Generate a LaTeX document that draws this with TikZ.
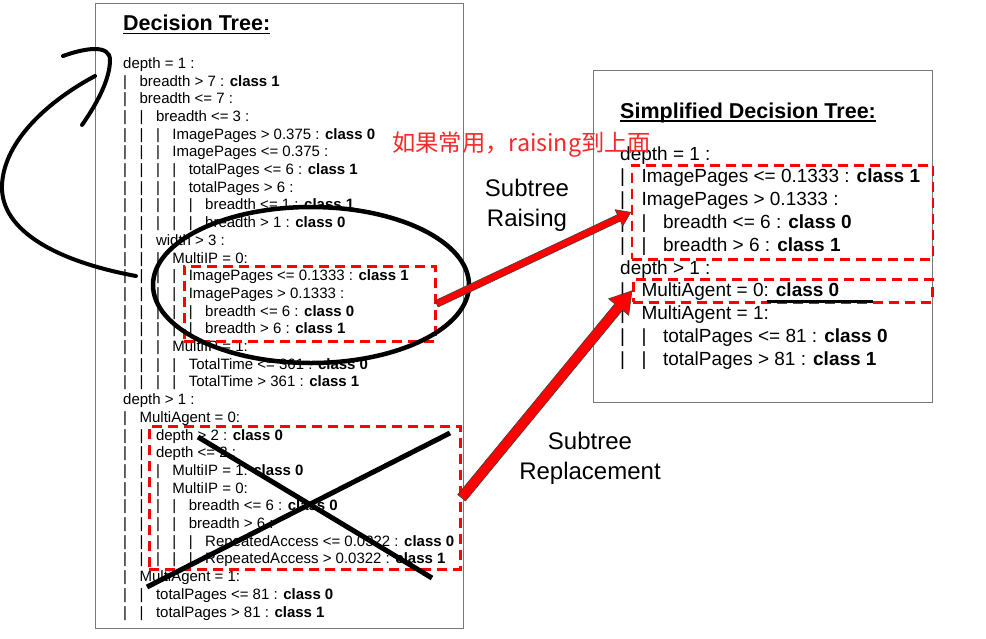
\documentclass[tikz,border=0pt]{standalone}
\usepackage{fontspec}
\setmainfont{Liberation Sans}
\newfontfamily\cjk{Noto Sans CJK SC}
\usetikzlibrary{calc}
\newcommand{\lvbar}{\makebox[16.4pt][l]{|}}
\newcommand{\rvbar}{\makebox[21.4pt][l]{|}}
\definecolor{redline}{RGB}{255,0,0}
\definecolor{cjkred}{RGB}{250,40,40}
\definecolor{boxgray}{RGB}{120,120,120}
% block arrow: #1 start, #2 end, #3 half shaft width, #4 head length, #5 half head width
\newcommand{\blkarrow}[5]{%
  \coordinate (ba-c) at ($(#2)!#4!(#1)$);
  \filldraw[arrowbody] ($(#1)!#3!90:(#2)$) -- ($(ba-c)!#3!-90:(#1)$) -- ($(ba-c)!#5!-90:(#1)$) -- (#2)
    -- ($(ba-c)!#5!90:(#1)$) -- ($(ba-c)!#3!90:(#1)$) -- ($(#1)!#3!-90:(#2)$) -- cycle;}
\begin{document}
\begin{tikzpicture}[x=1pt,y=-1pt,
  panel/.style={draw=boxgray, line width=0.9pt, inner sep=0, anchor=north west},
  redbox/.style={draw=redline, line width=2.6pt, dash pattern=on 10pt off 6pt, inner sep=0, anchor=north west},
  tline/.style={anchor=base west, inner sep=0, font=\fontsize{15}{18}\selectfont},
  rline/.style={anchor=base west, inner sep=0, font=\fontsize{19}{22}\selectfont},
  ttl/.style={anchor=base west, inner sep=0, font=\fontsize{21.5}{26}\selectfont\bfseries},
  biglabel/.style={align=center, inner sep=0, font=\fontsize{24}{30}\selectfont},
  arrowbody/.style={fill=redline, draw=black!75, line width=0.6pt, line join=miter},
  pen/.style={draw=black, line width=4pt, line cap=round},
  cross/.style={draw=black, line width=5pt}
]
\useasboundingbox (0,0) rectangle (986,638);
\fill[white] (0,0) rectangle (986,638);

% panels
\node[panel, minimum width=368pt, minimum height=625pt] (lbox) at (95,3) {};
\node[panel, minimum width=339pt, minimum height=332pt] (rbox) at (593,70) {};

% titles
\node[ttl] (ltitle) at (123,30.7) {Decision Tree:};
\draw[line width=1.6pt] ([yshift=-2.8pt]ltitle.base west) -- ([yshift=-2.8pt]ltitle.base east);
\node[ttl] (rtitle) at (620,118) {Simplified Decision Tree:};
\draw[line width=1.6pt] ([yshift=-2.8pt]rtitle.base west) -- ([yshift=-2.8pt]rtitle.base east);

% left tree
\foreach \t [count=\i] in {
  {depth = 1 :},
  {\lvbar breadth > 7 : \textbf{class 1}},
  {\lvbar breadth <= 7 :},
  {\lvbar\lvbar breadth <= 3 :},
  {\lvbar\lvbar\lvbar ImagePages > 0.375 : \textbf{class 0}},
  {\lvbar\lvbar\lvbar ImagePages <= 0.375 :},
  {\lvbar\lvbar\lvbar\lvbar totalPages <= 6 : \textbf{class 1}},
  {\lvbar\lvbar\lvbar\lvbar totalPages > 6 :},
  {\lvbar\lvbar\lvbar\lvbar\lvbar breadth <= 1 : \textbf{class 1}},
  {\lvbar\lvbar\lvbar\lvbar\lvbar breadth > 1 : \textbf{class 0}},
  {\lvbar\lvbar width > 3 :},
  {\lvbar\lvbar\lvbar MultiIP = 0:},
  {\lvbar\lvbar\lvbar\lvbar ImagePages <= 0.1333 : \textbf{class 1}},
  {\lvbar\lvbar\lvbar\lvbar ImagePages > 0.1333 :},
  {\lvbar\lvbar\lvbar\lvbar\lvbar breadth <= 6 : \textbf{class 0}},
  {\lvbar\lvbar\lvbar\lvbar\lvbar breadth > 6 : \textbf{class 1}},
  {\lvbar\lvbar\lvbar MultiIP = 1:},
  {\lvbar\lvbar\lvbar\lvbar TotalTime <= 361 : \textbf{class 0}},
  {\lvbar\lvbar\lvbar\lvbar TotalTime > 361 : \textbf{class 1}},
  {depth > 1 :},
  {\lvbar MultiAgent = 0:},
  {\lvbar\lvbar depth > 2 : \textbf{class 0}},
  {\lvbar\lvbar depth <= 2 :},
  {\lvbar\lvbar\lvbar MultiIP = 1: \textbf{class 0}},
  {\lvbar\lvbar\lvbar MultiIP = 0:},
  {\lvbar\lvbar\lvbar\lvbar breadth <= 6 : \textbf{class 0}},
  {\lvbar\lvbar\lvbar\lvbar breadth > 6 :},
  {\lvbar\lvbar\lvbar\lvbar\lvbar RepeatedAccess <= 0.0322 : \textbf{class 0}},
  {\lvbar\lvbar\lvbar\lvbar\lvbar RepeatedAccess > 0.0322 : \textbf{class 1}},
  {\lvbar MultiAgent = 1:},
  {\lvbar\lvbar totalPages <= 81 : \textbf{class 0}},
  {\lvbar\lvbar totalPages > 81 : \textbf{class 1}}}
  \node[tline] (l\i) at (123,{68.3+17.7*(\i-1)}) {\t};

% right tree
\foreach \t [count=\i] in {
  {depth = 1 :},
  {\rvbar ImagePages <= 0.1333 : \textbf{class 1}},
  {\rvbar ImagePages > 0.1333 :},
  {\rvbar\rvbar breadth <= 6 : \textbf{class 0}},
  {\rvbar\rvbar breadth > 6 : \textbf{class 1}},
  {depth > 1 :},
  {\rvbar MultiAgent = 0: \textbf{class 0}},
  {\rvbar MultiAgent = 1:},
  {\rvbar\rvbar totalPages <= 81 : \textbf{class 0}},
  {\rvbar\rvbar totalPages > 81 : \textbf{class 1}}}
  \node[rline] (r\i) at (620,{160+22.8*(\i-1)}) {\t};

% red dashed boxes
\node[redbox, minimum width=251pt, minimum height=75pt] (boxA) at (183,265) {};
\node[redbox, minimum width=311pt, minimum height=143pt] (boxB) at (148,425) {};
\node[redbox, minimum width=301pt, minimum height=94pt] (boxR1) at (630.7,164) {};
\node[redbox, minimum width=299pt, minimum height=23pt] (boxR2) at (632,278) {};
\draw[line width=3pt] (767,301) -- (873,301);

% hand-drawn marks
\draw[pen, line width=4.5pt] (311,285) ellipse [x radius=158pt, y radius=78pt];
\draw[pen] (136,276) .. controls (60,262) and (0,232) .. (2,185)
  .. controls (4,140) and (50,100) .. (95,76);
\draw[pen] (63,56) .. controls (85,48) and (110,44) .. (110,60)
  .. controls (110,80) and (96,105) .. (82,125);
\draw[cross] (198,437) -- (432,578);
\draw[cross] (450,433) -- (147,587);

% arrows
\blkarrow{boxA.east}{boxR1.west}{3.5pt}{13pt}{9pt}
\blkarrow{boxB.east}{boxR2.west}{5pt}{21pt}{13pt}

% labels
\node[biglabel] (raise) at (527,205) {Subtree\\Raising};
\node[biglabel] (repl) at (590,458) {Subtree\\Replacement};
\node[anchor=base west, inner sep=0, text=cjkred, font=\cjk\fontsize{23.3}{28}\selectfont] (note) at (392,151.5) {如果常用，raising到上面};
\end{tikzpicture}
\end{document}
